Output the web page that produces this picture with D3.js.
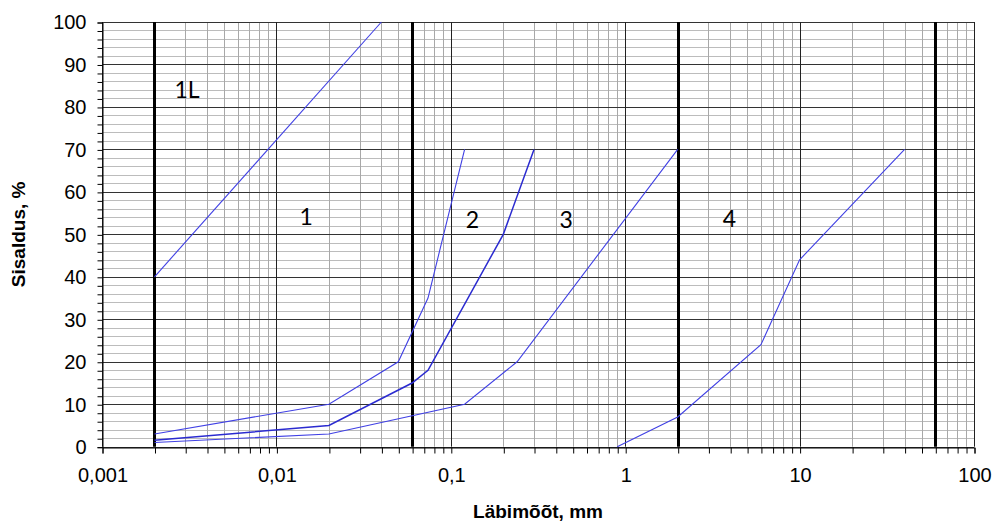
<!DOCTYPE html>
<html>
<head>
<meta charset="utf-8">
<script src="https://cdn.jsdelivr.net/npm/d3@7"></script>
<style>
  body { margin: 0; background: #fff; }
  svg text { font-family: "Liberation Sans", Arial, sans-serif; }
</style>
</head>
<body>
<div id="chart"></div>
<script>
// grain size curves: diameter (mm) vs passing (%)
const dia1L = [0.002, 0.04];
const pass1L = [40, 100];
const dia1 = [0.002, 0.02, 0.05, 0.074, 0.12];
const pass1 = [3, 10, 20, 35, 70];
const dia2 = [0.002, 0.02, 0.06, 0.074, 0.2, 0.3];
const pass2 = [1.5, 5, 15, 18, 50, 70];
const dia3 = [0.002, 0.02, 0.12, 0.24, 2];
const pass3 = [1, 3, 10, 20, 70];
const dia4 = [0.9, 2, 6, 10, 40];
const pass4 = [0, 7, 24, 44, 70];

// class boundaries (thick lines)
const boundaries = [0.002, 0.06, 2, 60];

// zone labels and where they sit (data coords)
const zoneNames = ["1L", "1", "2", "3", "4"];
const zoneDia = [0.00307, 0.0148, 0.133, 0.458, 3.96];
const zonePass = [82.1, 52.1, 51.5, 51.5, 51.7];

const decades = [0.001, 0.01, 0.1, 1, 10, 100];
const decadeLabels = ["0,001", "0,01", "0,1", "1", "10", "100"];
const yTicks = d3.range(0, 101, 10);

const w = 995, h = 529;
const pLeft = 102, pRight = 974, pTop = 22, pBottom = 446.7;

const x = d3.scaleLog().domain([0.001, 100]).range([pLeft, pRight]);
const y = d3.scaleLinear().domain([0, 100]).range([pBottom, pTop]);

const svg = d3.select("#chart").append("svg")
  .attr("width", w).attr("height", h);

const crisp = v => Math.round(v) + 0.5;

// minor values on log axis
const minorX = [];
decades.slice(0, -1).forEach(d => {
  for (let k = 2; k <= 9; k++) minorX.push(d * k);
});

const grid = svg.append("g");

// horizontal minor grid (every 2 %)
grid.selectAll(".hmin")
  .data(d3.range(2, 100, 2).filter(v => v % 10 !== 0))
  .enter().append("line")
  .attr("x1", pLeft).attr("x2", pRight)
  .attr("y1", d => crisp(y(d))).attr("y2", d => crisp(y(d)))
  .attr("stroke", "#bcbcbc");

// vertical minor grid
grid.selectAll(".vmin")
  .data(minorX)
  .enter().append("line")
  .attr("y1", pTop).attr("y2", pBottom)
  .attr("x1", d => crisp(x(d))).attr("x2", d => crisp(x(d)))
  .attr("stroke", "#a8a8a8");

// horizontal major grid
grid.selectAll(".hmaj")
  .data(yTicks)
  .enter().append("line")
  .attr("x1", pLeft).attr("x2", pRight)
  .attr("y1", d => crisp(y(d))).attr("y2", d => crisp(y(d)))
  .attr("stroke", "#333");

// vertical decade grid
grid.selectAll(".vmaj")
  .data(decades)
  .enter().append("line")
  .attr("y1", pTop).attr("y2", pBottom)
  .attr("x1", d => crisp(x(d))).attr("x2", d => crisp(x(d)))
  .attr("stroke", "#222");

// thick boundaries
grid.selectAll(".bnd")
  .data(boundaries)
  .enter().append("line")
  .attr("y1", pTop).attr("y2", pBottom)
  .attr("x1", d => crisp(x(d))).attr("x2", d => crisp(x(d)))
  .attr("stroke", "#000")
  .attr("stroke-width", 3);

// axes
const yAxis = d3.axisLeft(y)
  .tickValues(d3.range(0, 101, 2))
  .tickSize(5)
  .tickPadding(11)
  .tickFormat(d => d % 10 === 0 ? d : "");

svg.append("g")
  .attr("transform", `translate(${crisp(pLeft)},0.5)`)
  .call(yAxis)
  .attr("font-family", null)
  .call(g => g.select(".domain").attr("stroke", "#000"))
  .call(g => g.selectAll("text").attr("font-size", 20).attr("fill", "#000"));

const xAxis = d3.axisBottom(x)
  .tickValues(minorX.concat(decades))
  .tickSize(6)
  .tickPadding(14)
  .tickFormat(d => {
    const i = decades.indexOf(d);
    return i >= 0 ? decadeLabels[i] : "";
  });

svg.append("g")
  .attr("transform", `translate(0.5,${crisp(pBottom)})`)
  .call(xAxis)
  .attr("font-family", null)
  .call(g => g.select(".domain").attr("stroke", "#000"))
  .call(g => g.selectAll("text").attr("font-size", 20).attr("fill", "#000"));

// curves
const curves = [
  { dia: dia1L, pass: pass1L, width: 1.1 },
  { dia: dia1, pass: pass1, width: 1.1 },
  { dia: dia2, pass: pass2, width: 1.5 },
  { dia: dia3, pass: pass3, width: 1.1 },
  { dia: dia4, pass: pass4, width: 1.1 }
];

const line = d3.line().x(d => x(d[0])).y(d => y(d[1]));

svg.append("g").selectAll("path")
  .data(curves)
  .enter().append("path")
  .attr("d", c => line(c.dia.map((d, i) => [d, c.pass[i]])))
  .attr("fill", "none")
  .attr("stroke", c => c.width > 1.2 ? "#2b2bd0" : "#4040e4")
  .attr("stroke-width", c => c.width);

// zone labels
svg.append("g").selectAll("text")
  .data(zoneNames)
  .enter().append("text")
  .attr("x", (d, i) => x(zoneDia[i]))
  .attr("y", (d, i) => y(zonePass[i]))
  .attr("text-anchor", "middle")
  .style("font-family", "Lato, 'Open Sans', sans-serif")
  .attr("font-size", 23)
  .attr("fill", "#000")
  .text(d => d);

// axis titles
svg.append("text")
  .attr("x", (pLeft + pRight) / 2)
  .attr("y", 518)
  .attr("text-anchor", "middle")
  .attr("font-size", 19)
  .attr("font-weight", "bold")
  .text("Läbimõõt, mm");

svg.append("text")
  .attr("transform", `translate(25,${(pTop + pBottom) / 2}) rotate(-90)`)
  .attr("text-anchor", "middle")
  .attr("font-size", 19)
  .attr("font-weight", "bold")
  .text("Sisaldus, %");
</script>
</body>
</html>
